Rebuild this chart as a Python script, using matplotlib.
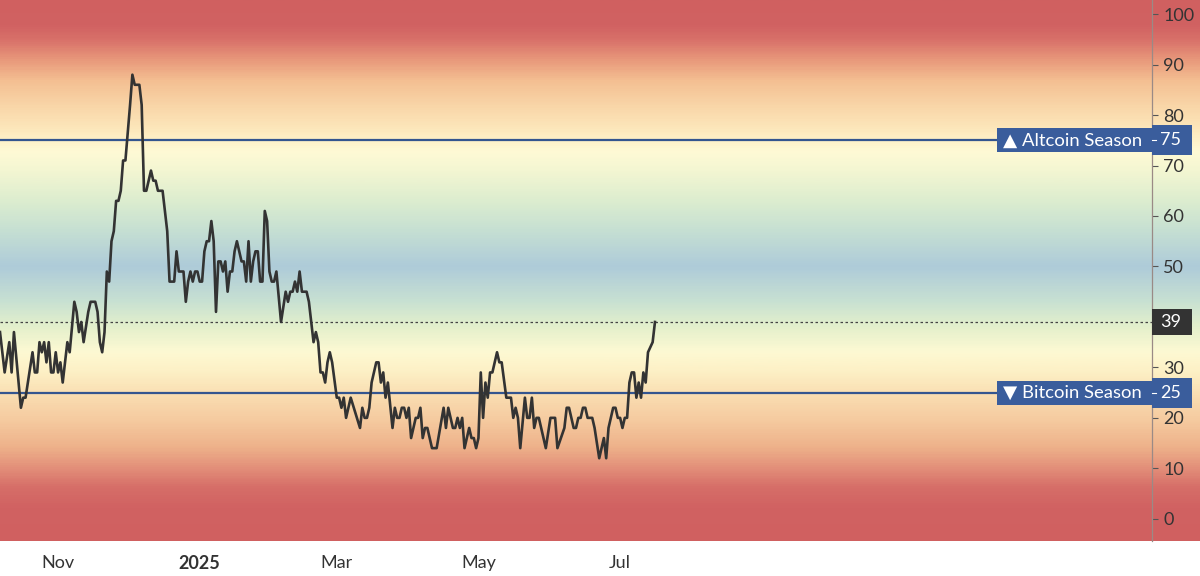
"""
Altcoin season index with coloured background bands and season thresholds.
"""

import matplotlib.pyplot as plt
import numpy as np
import pandas as pd
from matplotlib.colors import LinearSegmentedColormap
from matplotlib.patches import Rectangle
import matplotlib.transforms as mtransforms

#---------------------------------------
# Data
#---------------------------------------

start_date = '2024-10-07'
end_day = 496

days = [0, 2, 4, 5, 6, 9, 10, 11, 14, 15, 16, 17, 18, 19, 20, 21, 22, 23, 24, 25, 26, 27, 29, 30,
        32, 33, 34, 35, 36, 38, 39, 41, 42, 43, 44, 45, 46, 47, 48, 49, 50, 51, 52, 53, 54, 56,
        57, 58, 60, 61, 62, 63, 65, 66, 67, 68, 70, 72, 73, 75, 76, 77, 79, 80, 81, 82, 83, 84,
        85, 86, 87, 88, 89, 90, 91, 92, 93, 94, 95, 96, 97, 98, 99, 100, 101, 102, 103, 104, 105,
        106, 107, 108, 109, 110, 111, 112, 113, 114, 115, 116, 117, 118, 119, 121, 123, 124, 125,
        126, 127, 128, 129, 130, 132, 133, 135, 136, 137, 138, 139, 140, 141, 142, 143, 145, 146,
        147, 148, 149, 151, 155, 156, 157, 158, 159, 160, 162, 163, 164, 165, 166, 167, 169, 170,
        171, 172, 173, 174, 175, 176, 177, 179, 180, 181, 182, 183, 184, 186, 188, 191, 192, 193,
        195, 196, 197, 198, 199, 200, 202, 203, 204, 205, 206, 207, 208, 209, 210, 211, 212, 214,
        215, 216, 218, 220, 221, 222, 223, 224, 226, 227, 228, 229, 230, 231, 232, 235, 237, 239,
        240, 243, 244, 245, 247, 248, 249, 250, 251, 252, 253, 255, 256, 258, 260, 261, 262, 263,
        264, 265, 266, 267, 268, 269, 270, 271, 272, 273, 274, 275, 276, 277, 278, 279, 281, 282]

index_values = [37, 29, 35, 29, 37, 22, 24, 24, 33, 29, 29, 35, 33, 35, 31, 35, 29, 29, 33, 29, 31, 27, 35, 33,
                43, 41, 37, 39, 35, 41, 43, 43, 41, 35, 33, 37, 49, 47, 55, 57, 63, 63, 65, 71, 71, 82,
                88, 86, 86, 82, 65, 65, 69, 67, 67, 65, 65, 57, 47, 47, 53, 49, 49, 43, 47, 49, 47, 49,
                49, 47, 47, 53, 55, 55, 59, 55, 41, 51, 51, 49, 51, 45, 49, 49, 53, 55, 53, 51, 51,
                47, 55, 47, 51, 53, 53, 47, 47, 61, 59, 49, 47, 47, 49, 39, 45, 43, 45,
                45, 47, 45, 49, 45, 45, 43, 35, 37, 35, 29, 29, 27, 31, 33, 31, 24, 24,
                22, 24, 20, 24, 18, 22, 20, 20, 22, 27, 31, 31, 27, 29, 24, 27, 18, 22,
                20, 20, 22, 22, 20, 22, 16, 20, 20, 22, 16, 18, 18, 14, 14, 22, 18, 22,
                18, 18, 20, 18, 20, 14, 18, 16, 16, 14, 16, 29, 20, 27, 24, 29, 29, 33,
                31, 31, 24, 24, 20, 22, 20, 14, 24, 20, 20, 24, 18, 20, 20, 14, 20, 20,
                14, 18, 22, 22, 18, 18, 20, 20, 22, 22, 20, 20, 18, 12, 16, 12, 18, 20,
                22, 22, 20, 20, 18, 20, 20, 27, 29, 29, 24, 27, 24, 29, 27, 33, 35, 39]

altcoin_level = 75
bitcoin_level = 25
current_value = 39

# 40 sits under the current-value box in the original, so it is left out
y_ticks = [0, 10, 20, 30, 50, 60, 70, 80, 90, 100]
x_tick_dates = ['2024-11-01', '2025-01-01', '2025-03-01', '2025-05-01', '2025-07-01']
x_tick_labels = ['Nov', '2025', 'Mar', 'May', 'Jul']

# background colour stops (index value, colour)
band_values = [-5, 2, 6, 10, 14, 19, 24, 29, 33, 38, 43, 50, 57, 63, 69, 73, 77, 82, 87, 91, 95, 98, 103]
band_colours = ['#d06060', '#d16262', '#d66e68', '#e3907a', '#eeb18a', '#f5c99e', '#f9dcb0', '#fdf0c5',
                '#fdf9d3', '#e4f0cc', '#c8e1d2', '#aecbd9', '#c5dfd3', '#dcedcf', '#f3f6d2', '#fffad5',
                '#fde9bd', '#f9d6a8', '#f4bf92', '#e99a7c', '#d9726a', '#d16262', '#d06060']

dates = pd.Timestamp(start_date) + pd.to_timedelta(days, unit='D')
x_start = pd.Timestamp(start_date)
x_end = pd.Timestamp(start_date) + pd.Timedelta(days=end_day)

#---------------------------------------
# Figure
#---------------------------------------

plt.rcParams['font.family'] = ['Lato', 'DejaVu Sans']

y_lo, y_hi = -4.4, 102.8
fig = plt.figure(figsize=(12, 5.76), dpi=100)
ax_bottom = 35 / 576
ax_height = 1 - ax_bottom

# Gradient background over the full width
bg = fig.add_axes([0, ax_bottom, 1, ax_height])
pos = [(v - band_values[0]) / (band_values[-1] - band_values[0]) for v in band_values]
cmap = LinearSegmentedColormap.from_list('bands', list(zip(pos, band_colours)))
grad = np.linspace(band_values[0], band_values[-1], 600).reshape(-1, 1)
bg.imshow(grad, aspect='auto', cmap=cmap, origin='lower',
          extent=[0, 1, band_values[0], band_values[-1]],
          vmin=band_values[0], vmax=band_values[-1])
bg.set_xlim(0, 1)
bg.set_ylim(y_lo, y_hi)
bg.axis('off')

# Main axes
ax = fig.add_axes([0, ax_bottom, 1152 / 1200, ax_height])
ax.patch.set_alpha(0)
ax.set_xlim(x_start, x_end)
ax.set_ylim(y_lo, y_hi)

ax.axhline(altcoin_level, color='#34558f', linewidth=1.6, zorder=2)
ax.axhline(bitcoin_level, color='#34558f', linewidth=1.6, zorder=2)
ax.axhline(current_value, color='#444444', linewidth=0.9, linestyle=(0, (2, 2)), zorder=2)

ax.plot(dates, index_values, color='#333333', linewidth=1.9, zorder=3)

# Axes styling
for side in ['top', 'left', 'bottom']:
    ax.spines[side].set_visible(False)
ax.spines['right'].set_color('#9a8a86')
ax.spines['right'].set_linewidth(0.9)

ax.yaxis.tick_right()
ax.set_yticks(y_ticks)
ax.tick_params(axis='y', length=4, width=0.8, color='#555555', pad=4,
               labelsize=13, labelcolor='#333333')
ax.set_xticks(pd.to_datetime(x_tick_dates))
ax.set_xticklabels(x_tick_labels)
ax.tick_params(axis='x', length=0, pad=10, labelsize=13, labelcolor='#333333')
ax.get_xticklabels()[1].set_fontweight('bold')

#---------------------------------------
# Season labels and value boxes
#---------------------------------------

trans = mtransforms.blended_transform_factory(ax.transAxes, ax.transData)
box_colour = '#3a5d9c'
label_x0 = 997 / 1152
value_w = 40 / 1152

for level, text in [(altcoin_level, '\u25B2 Altcoin Season'), (bitcoin_level, '\u25BC Bitcoin Season')]:
    ax.add_patch(Rectangle((label_x0, level - 2.4), 1 - label_x0, 4.8, transform=trans,
                           facecolor=box_colour, edgecolor='none', clip_on=False, zorder=5))
    ax.text((label_x0 + 1) / 2 - 0.002, level, text, transform=trans, ha='center', va='center',
            color='white', fontsize=13.3, zorder=6)
    ax.add_patch(Rectangle((1, level - 2.95), value_w, 5.9, transform=trans,
                           facecolor=box_colour, edgecolor='none', clip_on=False, zorder=5))
    ax.plot([1, 1 + 4 / 1152], [level, level], transform=trans, color='white',
            linewidth=0.8, clip_on=False, zorder=6)
    ax.text(1 + 8 / 1152, level, str(level), transform=trans, ha='left', va='center',
            color='white', fontsize=13, zorder=6)

ax.add_patch(Rectangle((1, current_value - 2.6), value_w, 5.2, transform=trans,
                       facecolor='#333333', edgecolor='none', clip_on=False, zorder=5))
ax.text(1 + 8 / 1152, current_value, str(current_value), transform=trans, ha='left', va='center',
        color='white', fontsize=13, zorder=6)

plt.savefig('out.png', dpi=100)
